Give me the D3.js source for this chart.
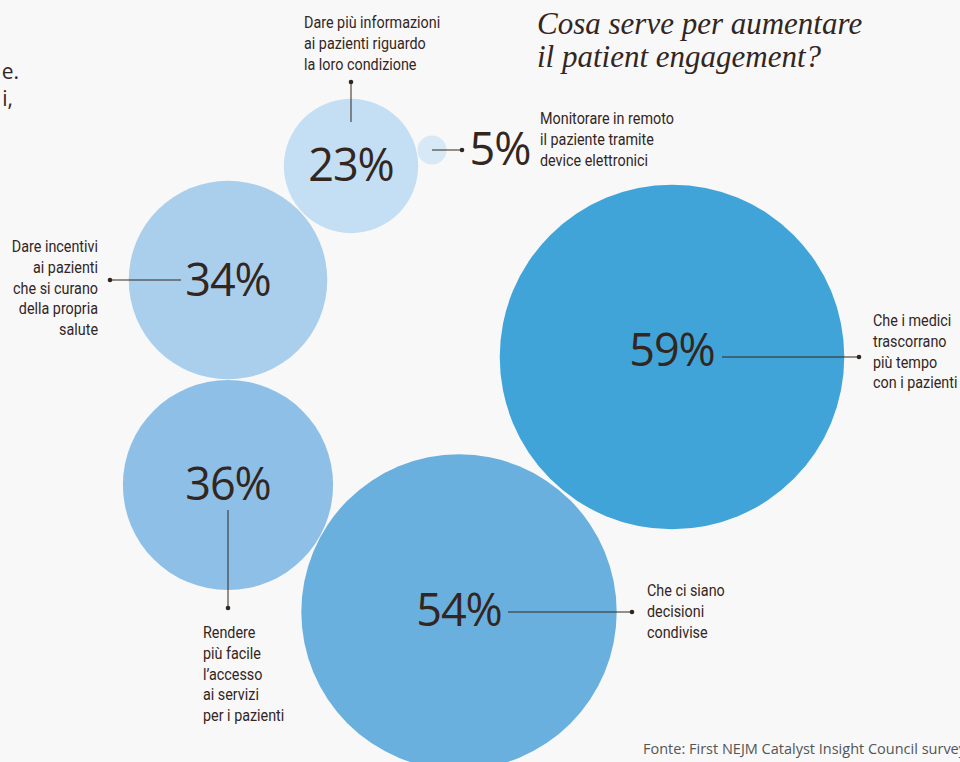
<!DOCTYPE html>
<html>
<head>
<meta charset="utf-8">
<script src="https://cdn.jsdelivr.net/npm/d3@7"></script>
<style>
  html, body { margin: 0; padding: 0; background: #f8f8f8; overflow: hidden; }
  svg { display: block; }
</style>
</head>
<body>
<script>
// dati
const values = [23, 5, 34, 59, 36, 54];
const pctLabels = ["23%", "5%", "34%", "59%", "36%", "54%"];
const descriptions = [
  ["Dare più informazioni", "ai pazienti riguardo", "la loro condizione"],
  ["Monitorare in remoto", "il paziente tramite", "device elettronici"],
  ["Dare incentivi", "ai pazienti", "che si curano", "della propria", "salute"],
  ["Che i medici", "trascorrano", "più tempo", "con i pazienti"],
  ["Rendere", "più facile", "l’accesso", "ai servizi", "per i pazienti"],
  ["Che ci siano", "decisioni", "condivise"]
];
const titleLines = ["Cosa serve per aumentare", "il patient engagement?"];
const sourceText = "Fonte: First NEJM Catalyst Insight Council survey";

// layout (posizione dei centri, non dati)
const centers = [[351, 166], [432, 150], [228, 280], [672, 357], [228, 485], [459, 612]];
const fills = ["#c4dff3", "#d7e9f7", "#aacfec", "#40a4d8", "#8ec0e7", "#69b0de"];
// direzione del richiamo per ogni bolla
const callouts = [
  { dir: "up", from: -44, to: -84 },
  { dir: "right", from: 0, to: 30 },
  { dir: "left", from: -47, to: -118 },
  { dir: "right", from: 50, to: 187 },
  { dir: "down", from: 25, to: 123 },
  { dir: "right", from: 49, to: 173 }
];

const width = 960, height = 762;
const ink = "#33261f";

const svg = d3.select("body").append("svg")
  .attr("width", width)
  .attr("height", height);

// raggio proporzionale al valore
const r = d3.scaleLinear().domain([0, 100]).range([0, 292]);

const data = values.map((v, i) => ({
  value: v, pct: pctLabels[i], desc: descriptions[i],
  cx: centers[i][0], cy: centers[i][1], fill: fills[i], co: callouts[i]
}));

svg.selectAll("circle.bubble")
  .data(data)
  .join("circle")
  .attr("class", "bubble")
  .attr("cx", d => d.cx)
  .attr("cy", d => d.cy)
  .attr("r", d => r(d.value))
  .attr("fill", d => d.fill);

// testo parziale a sinistra (tagliato)
svg.append("text").attr("x", 19).attr("y", 79).attr("text-anchor", "end")
  .attr("font-family", "Open Sans").attr("font-size", 21).attr("fill", ink).text("e.");
svg.append("text").attr("x", 13).attr("y", 106).attr("text-anchor", "end")
  .attr("font-family", "Open Sans").attr("font-size", 21).attr("fill", ink).text("i,");

// titolo
svg.append("text")
  .attr("x", 537).attr("y", 34)
  .attr("font-family", "Liberation Serif")
  .attr("font-style", "italic")
  .attr("font-size", 31)
  .attr("fill", ink)
  .selectAll("tspan").data(titleLines).join("tspan")
  .attr("x", 537).attr("dy", (d, i) => i ? 33 : 0)
  .text(d => d);

// linee di richiamo
const g = svg.append("g");
data.forEach(d => {
  let x1 = d.cx, y1 = d.cy, x2 = d.cx, y2 = d.cy;
  if (d.co.dir === "up" || d.co.dir === "down") { y1 = d.cy + d.co.from; y2 = d.cy + d.co.to; }
  if (d.co.dir === "left" || d.co.dir === "right") { x1 = d.cx + d.co.from; x2 = d.cx + d.co.to; }
  g.append("line").attr("x1", x1).attr("y1", y1).attr("x2", x2).attr("y2", y2)
    .attr("stroke", ink).attr("stroke-width", 1);
  g.append("circle").attr("cx", x2).attr("cy", y2).attr("r", 2.3).attr("fill", ink);
});

// percentuali
const pctPos = [[351, 181], [500, 165], [228, 296], [672, 366], [228, 500], [459, 626]];
svg.selectAll("text.pct")
  .data(data)
  .join("text")
  .attr("class", "pct")
  .attr("x", (d, i) => pctPos[i][0])
  .attr("y", (d, i) => pctPos[i][1])
  .attr("text-anchor", "middle")
  .attr("font-family", "Open Sans")
  .attr("font-weight", 400)
  .attr("font-size", 45)
  .attr("letter-spacing", -1)
  .attr("fill", ink)
  .text(d => d.pct);

// descrizioni (carattere stretto: Roboto compresso in orizzontale)
const descPos = [
  { x: 304, y: 28, anchor: "start" },
  { x: 540, y: 124, anchor: "start" },
  { x: 98, y: 252, anchor: "end" },
  { x: 873, y: 326, anchor: "start" },
  { x: 203, y: 638, anchor: "start" },
  { x: 647, y: 596, anchor: "start" }
];
data.forEach((d, i) => {
  const p = descPos[i];
  svg.append("g")
    .attr("transform", `translate(${p.x},${p.y}) scale(0.87,1)`)
    .append("text")
    .attr("font-family", "Roboto")
    .attr("font-size", 16.5)
    .attr("fill", ink)
    .attr("text-anchor", p.anchor)
    .selectAll("tspan").data(d.desc).join("tspan")
    .attr("x", 0)
    .attr("y", (t, j) => j * 20.8)
    .text(t => t);
});

// fonte
svg.append("text")
  .attr("x", 643).attr("y", 754)
  .attr("font-family", "Open Sans")
  .attr("font-size", 14.5)
  .attr("fill", "#555")
  .text(sourceText);
</script>
</body>
</html>
